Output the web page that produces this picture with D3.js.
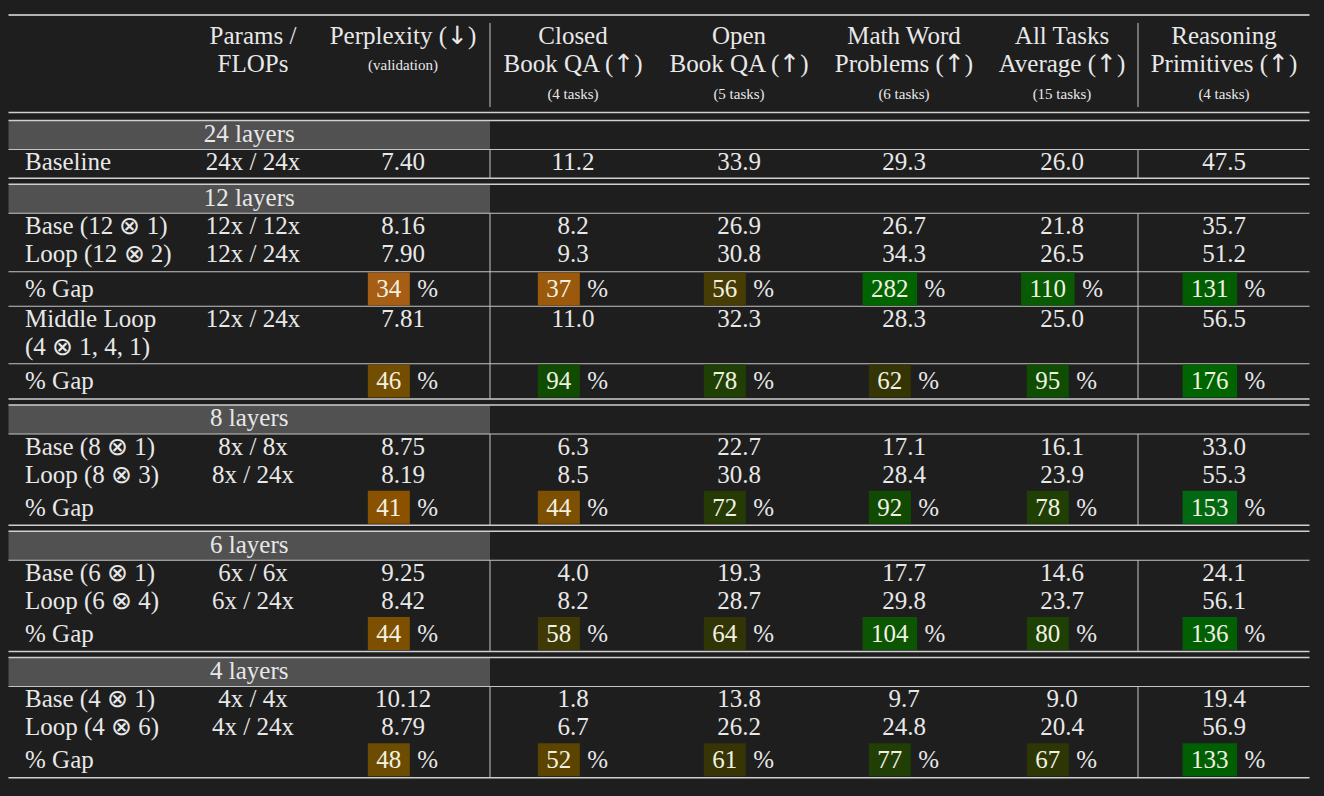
<!DOCTYPE html>
<html><head><meta charset="utf-8">
<script src="https://cdn.jsdelivr.net/npm/d3@7/dist/d3.min.js"></script>
<style>html,body{margin:0;padding:0;background:#1e1e1e;} svg{display:block;}</style>
</head><body>
<svg id="chart" width="1324" height="796"></svg>
<script>
// ---------- data ----------
const columnKeys = ["params", "perplexity", "closedBookQA", "openBookQA", "mathWord", "allTasks", "reasoning"];
const headerLine1 = ["Params /", "Perplexity (↓)", "Closed", "Open", "Math Word", "All Tasks", "Reasoning"];
const headerLine2 = ["FLOPs", "", "Book QA (↑)", "Book QA (↑)", "Problems (↑)", "Average (↑)", "Primitives (↑)"];
const headerSub = ["", "(validation)", "(4 tasks)", "(5 tasks)", "(6 tasks)", "(15 tasks)", "(4 tasks)"];

const groupNames = ["24 layers", "12 layers", "8 layers", "6 layers", "4 layers"];
const rowGroup = [0, 1, 1, 1, 1, 1, 2, 2, 2, 3, 3, 3, 4, 4, 4];
const rowRuleAbove = [0, 0, 0, 1, 1, 1, 0, 0, 0, 0, 0, 0, 0, 0, 0];
const rowLabels = ["Baseline", "Base (12 ⊗ 1)", "Loop (12 ⊗ 2)", "% Gap", "Middle Loop|(4 ⊗ 1, 4, 1)", "% Gap",
  "Base (8 ⊗ 1)", "Loop (8 ⊗ 3)", "% Gap", "Base (6 ⊗ 1)", "Loop (6 ⊗ 4)", "% Gap",
  "Base (4 ⊗ 1)", "Loop (4 ⊗ 6)", "% Gap"];
const rowParams = ["24x / 24x", "12x / 12x", "12x / 24x", "", "12x / 24x", "", "8x / 8x", "8x / 24x", "",
  "6x / 6x", "6x / 24x", "", "4x / 4x", "4x / 24x", ""];
const perplexity   = [7.40, 8.16, 7.90, 34, 7.81, 46, 8.75, 8.19, 41, 9.25, 8.42, 44, 10.12, 8.79, 48];
const closedBookQA = [11.2, 8.2, 9.3, 37, 11.0, 94, 6.3, 8.5, 44, 4.0, 8.2, 58, 1.8, 6.7, 52];
const openBookQA   = [33.9, 26.9, 30.8, 56, 32.3, 78, 22.7, 30.8, 72, 19.3, 28.7, 64, 13.8, 26.2, 61];
const mathWord     = [29.3, 26.7, 34.3, 282, 28.3, 62, 17.1, 28.4, 92, 17.7, 29.8, 104, 9.7, 24.8, 77];
const allTasks     = [26.0, 21.8, 26.5, 110, 25.0, 95, 16.1, 23.9, 78, 14.6, 23.7, 80, 9.0, 20.4, 67];
const reasoning    = [47.5, 35.7, 51.2, 131, 56.5, 176, 33.0, 55.3, 153, 24.1, 56.1, 136, 19.4, 56.9, 133];

// ---------- setup ----------
const FONT = "'Liberation Serif','Times New Roman',serif";
const TXT = "#e8e8e8";
const svg = d3.select("#chart");
svg.append("rect").attr("width", 1324).attr("height", 796).attr("fill", "#1e1e1e");

const X0 = 8.5, X1 = 1309.5, BAND_X1 = 490, VLINES = [490, 1138];
const x = d3.scaleOrdinal().domain(columnKeys).range([253, 403, 573, 739, 904, 1062, 1224]);
const numCols = [
  {key: "perplexity", vals: perplexity, fmt: d3.format(".2f")},
  {key: "closedBookQA", vals: closedBookQA, fmt: d3.format(".1f")},
  {key: "openBookQA", vals: openBookQA, fmt: d3.format(".1f")},
  {key: "mathWord", vals: mathWord, fmt: d3.format(".1f")},
  {key: "allTasks", vals: allTasks, fmt: d3.format(".1f")},
  {key: "reasoning", vals: reasoning, fmt: d3.format(".1f")}
];
const gapColor = d3.scaleLinear()
  .domain([34, 41, 48, 52, 57, 62, 72, 80, 94, 110, 131, 153, 176])
  .range(["#a65e14", "#8a5200", "#6b4c00", "#5a4400", "#423b05", "#343405", "#263a05", "#1d4005", "#0f4c02", "#085a03", "#005e00", "#036812", "#006400"])
  .clamp(true);

// write text, rendering arrows in a fallback font with taller glyphs
function richText(sel, str) {
  const parts = str.split(/([↑↓])/);
  parts.forEach(p => {
    if (!p) return;
    const t = sel.append("tspan").text(p);
    if (/[↑↓]/.test(p)) t.attr("font-family", "'DejaVu Sans',sans-serif");
  });
  return sel;
}

// ---------- layout ----------
const BAND_H = 29, ROW_H = 28, GAP_H = 34.5, ROW2_H = 57.5, PAD_INT = 2.5, PAD_END = 0.75, DBL = 6, CC = 12.5, BASE = 8.3;
const hrules = [{y: 15, w: 1.6, c: "#e6e6e6"}, {y: 112.5, w: 1.4, c: "#cfcfcf"}, {y: 120.5, w: 1.4, c: "#cfcfcf"}];
const bands = [], rows = [], vsegs = [];
let y = 120.5;
groupNames.forEach((g, gi) => {
  if (gi > 0) { hrules.push({y, w: 1.4, c: "#cfcfcf"}); y += DBL; hrules.push({y, w: 1.4, c: "#cfcfcf"}); }
  bands.push({name: g, y0: y, y1: y + BAND_H});
  y += BAND_H;
  hrules.push({y, w: 1.2, c: "#c4c4c4"});
  const segStart = y;
  let prevKind = null;
  rowLabels.forEach((lab, i) => {
    if (rowGroup[i] !== gi) return;
    const kind = lab === "% Gap" ? "gap" : (lab.includes("|") ? "row2" : "row");
    if (rowRuleAbove[i]) {
      if (prevKind === "row") y += PAD_INT;
      hrules.push({y, w: 1.2, c: "#c4c4c4"});
    }
    const h = kind === "gap" ? GAP_H : (kind === "row2" ? ROW2_H : ROW_H);
    const cc = kind === "gap" ? y + GAP_H / 2 : y + CC;
    rows.push({i, kind, top: y, cc});
    y += h;
    prevKind = kind;
  });
  y += PAD_END;
  VLINES.forEach(vx => vsegs.push({x: vx, y0: segStart, y1: y}));
});
hrules.push({y, w: 1.4, c: "#cfcfcf"});

// ---------- header ----------
const hdr = svg.append("g").attr("font-family", FONT).attr("fill", TXT).attr("text-anchor", "middle");
columnKeys.forEach((k, ci) => {
  richText(hdr.append("text").attr("x", x(k)).attr("y", 44).attr("font-size", 25), headerLine1[ci]);
  if (headerLine2[ci]) richText(hdr.append("text").attr("x", x(k)).attr("y", 72).attr("font-size", 25), headerLine2[ci]);
  if (headerSub[ci]) hdr.append("text").attr("x", x(k)).attr("y", k === "perplexity" ? 70 : 99).attr("font-size", 15).text(headerSub[ci]);
});
VLINES.forEach(vx => svg.append("line").attr("x1", vx).attr("x2", vx).attr("y1", 23).attr("y2", 107)
  .attr("stroke", "#c4c4c4").attr("stroke-width", 1));

// ---------- bands ----------
svg.selectAll("rect.band").data(bands).join("rect").attr("class", "band")
  .attr("x", X0).attr("width", BAND_X1 - X0).attr("y", d => d.y0).attr("height", d => d.y1 - d.y0)
  .attr("fill", "#515151");
svg.selectAll("text.band").data(bands).join("text").attr("class", "band")
  .attr("x", (X0 + BAND_X1) / 2).attr("y", d => (d.y0 + d.y1) / 2 + BASE - 1.5)
  .attr("text-anchor", "middle").attr("font-family", FONT).attr("font-size", 25).attr("fill", TXT)
  .text(d => d.name);

// ---------- rules ----------
svg.selectAll("line.h").data(hrules).join("line").attr("class", "h")
  .attr("x1", X0).attr("x2", X1).attr("y1", d => d.y).attr("y2", d => d.y)
  .attr("stroke", d => d.c).attr("stroke-width", d => d.w);
svg.selectAll("line.v").data(vsegs).join("line").attr("class", "v")
  .attr("x1", d => d.x).attr("x2", d => d.x).attr("y1", d => d.y0).attr("y2", d => d.y1)
  .attr("stroke", "#c4c4c4").attr("stroke-width", 1);

// ---------- body ----------
const body = svg.append("g").attr("font-family", FONT).attr("font-size", 25).attr("fill", TXT);
rows.forEach(r => {
  const lines = rowLabels[r.i].split("|");
  lines.forEach((t, li) => body.append("text").attr("x", 25).attr("y", r.cc + li * 28 + BASE).text(t));
  if (rowParams[r.i]) body.append("text").attr("x", x("params")).attr("y", r.cc + BASE)
    .attr("text-anchor", "middle").text(rowParams[r.i]);
  numCols.forEach(col => {
    const v = col.vals[r.i];
    if (r.kind !== "gap") {
      body.append("text").attr("x", x(col.key)).attr("y", r.cc + BASE).attr("text-anchor", "middle").text(col.fmt(v));
    } else {
      const g = body.append("g");
      const rect = g.append("rect");
      const num = g.append("text").attr("y", r.cc + BASE).attr("text-anchor", "middle").attr("fill", "#f1f1e2").text(d3.format("d")(v));
      const pct = g.append("text").attr("y", r.cc + BASE).text("%");
      const tw = num.node().getComputedTextLength();
      const pw = pct.node().getComputedTextLength();
      const boxW = tw + 17, gapW = 7.5;
      const left = x(col.key) - (boxW + gapW + pw) / 2;
      rect.attr("x", left).attr("y", r.cc - 16.5).attr("width", boxW).attr("height", 33).attr("fill", gapColor(v));
      num.attr("x", left + boxW / 2);
      pct.attr("x", left + boxW + gapW);
    }
  });
});
</script>
</body></html>
